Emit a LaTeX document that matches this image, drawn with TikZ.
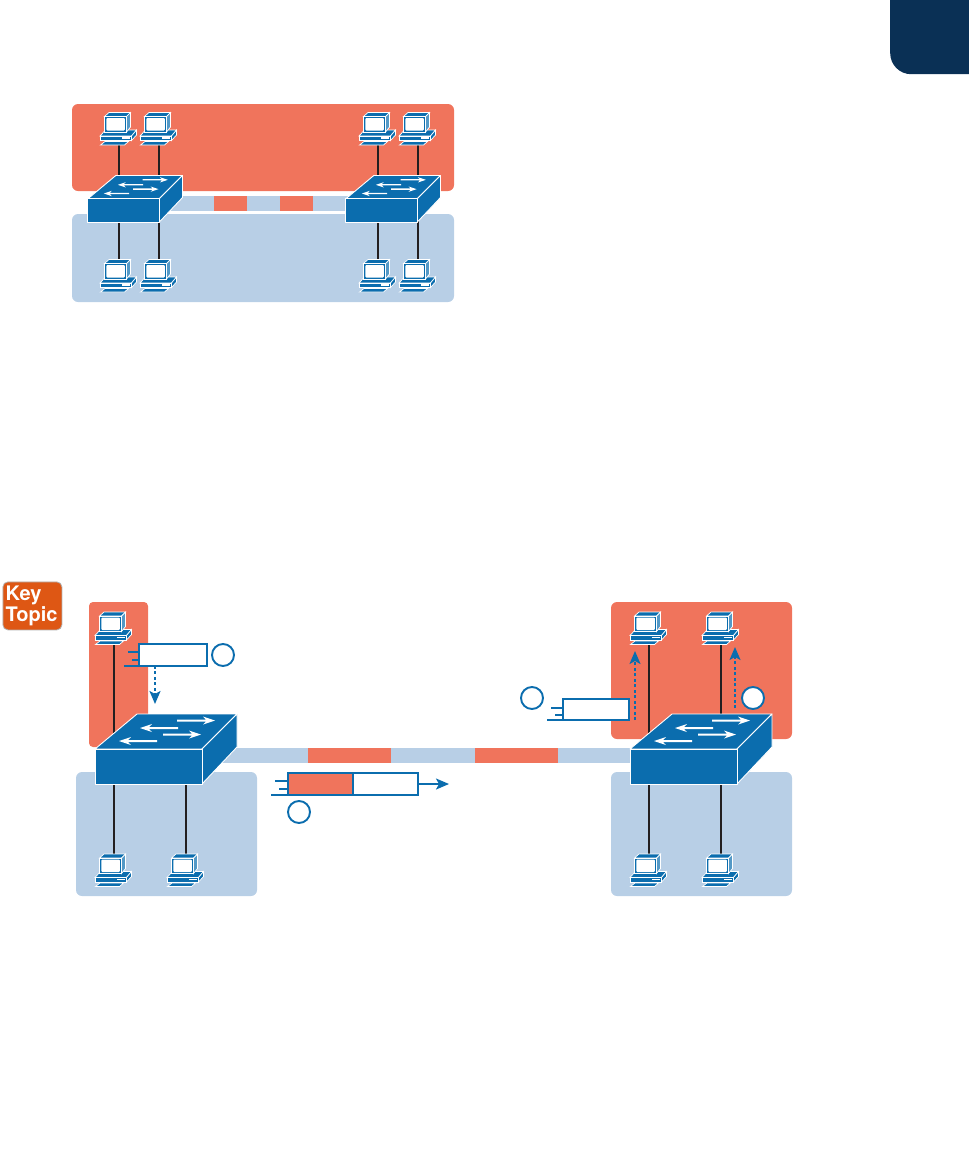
\documentclass[tikz,border=0pt]{standalone}
\usepackage{fontspec}
\setsansfont{TeX Gyre Heros}
\usetikzlibrary{arrows.meta, positioning}
\pgfdeclarelayer{background}
\pgfsetlayers{background,main}
\definecolor{vlanred}{HTML}{F0745C}
\definecolor{vlanblue}{HTML}{B8CFE6}
\definecolor{devblue}{HTML}{0B6DAE}
\definecolor{tabnavy}{HTML}{0A3055}
\definecolor{keyorange}{HTML}{DE5714}
\definecolor{wireblack}{HTML}{231F20}
\tikzset{
  pcpic/.pic={
    \begin{scope}[shift={(-19.5,-16.5)}, draw=white, fill=devblue, line width=0.7pt]
      \filldraw (0.5,24) -- (6,18) -- (37,18) -- (32,24) -- cycle;
      \filldraw (0.5,24) rectangle (32,28.5);
      \filldraw (32,24) -- (37,18) -- (37,23) -- (32,28.5) -- cycle;
      \fill[white] (22,25.4) rectangle (30,26.6);
      \filldraw (1,33) -- (5.5,29.5) -- (29,29.5) -- (25,33) -- cycle;
      \filldraw (5,4.5) -- (9.5,0.5) -- (31,0.5) -- (27,4.5) -- cycle;
      \filldraw[fill=devblue!70] (27,4.5) -- (31,0.5) -- (31,15) -- (27,20) -- cycle;
      \filldraw (5,4.5) rectangle (27,20);
      \fill[white, rounded corners=1pt] (6.8,6) rectangle (25.4,18.5);
    \end{scope}
  },
  swpic/.pic={
    \begin{scope}[shift={(-53.5,-17.5)}, draw=white, fill=devblue, line width=0.9pt, line join=round]
      \filldraw (0,0) -- (42,-35) -- (142,-35) -- (107,0) -- cycle;
      \filldraw (107,0) -- (142,-35) -- (142,-2) -- (107,35) -- cycle;
      \filldraw (0,0) rectangle (107,35);
      \foreach \xa/\xb/\yy/\dd in {82/120/-28.5/1, 83/45/-21/-1, 68/106/-14.5/1, 62/24/-8/-1}{
        \fill[white] (\xa,\yy-1) -- ({\xb-\dd*9},\yy-1) -- ({\xb-\dd*12},\yy-4) -- (\xb,\yy) -- ({\xb-\dd*12},\yy+4) -- ({\xb-\dd*9},\yy+1) -- (\xa,\yy+1) -- cycle;
      }
    \end{scope}
  }
}
\begin{document}
\begin{tikzpicture}[x=1pt, y=-1pt, >=Latex]
  \tikzstyle{zone}=[rectangle, anchor=north west, rounded corners=6pt, inner sep=0pt, outer sep=0pt]
  \tikzstyle{seg}=[rectangle, inner sep=0pt, outer sep=0pt, minimum height=15pt]
  \tikzstyle{pcbox}=[rectangle, inner sep=0pt, outer sep=0pt, minimum width=37pt, minimum height=33pt]
  \tikzstyle{swbox}=[rectangle, inner sep=0pt, outer sep=0pt]
  \tikzstyle{wire}=[draw=wireblack, line width=2pt]
  \tikzstyle{frame}=[rectangle, draw=devblue, fill=white, line width=1.9pt, inner sep=0pt, outer sep=0pt, minimum height=21.5pt]
  \tikzstyle{speed}=[draw=devblue, line width=1.9pt]
  \tikzstyle{stepmark}=[circle, draw=devblue, fill=white, line width=1.9pt, inner sep=0pt, minimum size=22pt]
  \tikzstyle{flowdash}=[draw=devblue, line width=1.9pt, dash pattern=on 3pt off 2.5pt, -{Stealth[length=13pt, width=11pt, inset=3pt, fill=devblue]}]
  \tikzstyle{flow}=[draw=devblue, line width=1.9pt, -{Stealth[length=13pt, width=11pt, inset=3pt, fill=devblue]}]

  \useasboundingbox (0,0) rectangle (969,1173);

  % corner tab and key topic badge
  \node[rectangle, fill=tabnavy, rounded corners=21pt, anchor=north west, inner sep=0pt, minimum width=120pt, minimum height=114pt] (tab) at (890,-40) {};
  \node[rectangle, draw=black!30, line width=0.8pt, fill=keyorange, rounded corners=5pt, anchor=north west, inner sep=0pt, minimum width=59pt, minimum height=48pt] (keybadge) at (2.5,581.5) {};
  \node[anchor=west, inner sep=0pt, align=left, text=white, font=\sffamily\bfseries\fontsize{20}{18}\selectfont] (keytext) at (5.5,606) {Key\\Topic};

  % top diagram
  \begin{pgfonlayer}{background}
    \node[zone, fill=vlanred, minimum width=382pt, minimum height=87pt] (topred) at (72,104) {};
    \node[zone, fill=vlanblue, minimum width=382pt, minimum height=88pt] (topblue) at (72,214) {};
    \node[seg, fill=vlanblue, minimum width=54pt, anchor=west] (trunkA) at (160,203.5) {};
    \node[seg, fill=vlanred, minimum width=33pt, right=0pt of trunkA] (trunkB) {};
    \node[seg, fill=vlanblue, minimum width=33pt, right=0pt of trunkB] (trunkC) {};
    \node[seg, fill=vlanred, minimum width=33pt, right=0pt of trunkC] (trunkD) {};
    \node[seg, fill=vlanblue, minimum width=37pt, right=0pt of trunkD] (trunkE) {};
  \end{pgfonlayer}
  \node[swbox, minimum width=71pt, minimum height=23pt] (swL) at (123.5,210.5) {};
  \node[swbox, minimum width=71pt, minimum height=23pt] (swR) at (381.5,210.5) {};
  \pic[scale=0.667] at (swL) {swpic};
  \pic[scale=0.667] at (swR) {swpic};
  \foreach \pcname/\pcx/\pcy in {pcA/119/128.5, pcB/159/128.5, pcC/378/128.5, pcD/418/128.5, pcE/119/275.5, pcF/159/275.5, pcG/378/275.5, pcH/418/275.5}{
    \node[pcbox] (\pcname) at (\pcx,\pcy) {};
    \pic at (\pcname) {pcpic};
  }
  \begin{pgfonlayer}{background}
    \draw[wire] (pcA.south) -- (pcA.south |- swL);
    \draw[wire] (pcB.south) -- (pcB.south |- swL);
    \draw[wire] (pcC.south) -- (pcC.south |- swR);
    \draw[wire] (pcD.south) -- (pcD.south |- swR);
    \draw[wire] (pcE.north) -- (pcE.north |- swL);
    \draw[wire] (pcF.north) -- (pcF.north |- swL);
    \draw[wire] (pcG.north) -- (pcG.north |- swR);
    \draw[wire] (pcH.north) -- (pcH.north |- swR);
  \end{pgfonlayer}

  % bottom diagram
  \begin{pgfonlayer}{background}
    \node[zone, fill=vlanred, rounded corners=4pt, minimum width=59pt, minimum height=145pt] (lowredL) at (89,602) {};
    \node[zone, fill=vlanblue, minimum width=181pt, minimum height=124pt] (lowblueL) at (76,772) {};
    \node[zone, fill=vlanred, minimum width=181pt, minimum height=137pt] (lowredR) at (611,602) {};
    \node[zone, fill=vlanblue, minimum width=181pt, minimum height=124pt] (lowblueR) at (611,772) {};
    \node[seg, fill=vlanblue, minimum width=93pt, anchor=west] (linkA) at (215,755.5) {};
    \node[seg, fill=vlanred, minimum width=83pt, right=0pt of linkA] (linkB) {};
    \node[seg, fill=vlanblue, minimum width=84pt, right=0pt of linkB] (linkC) {};
    \node[seg, fill=vlanred, minimum width=83pt, right=0pt of linkC] (linkD) {};
    \node[seg, fill=vlanblue, minimum width=72pt, right=0pt of linkD] (linkE) {};
  \end{pgfonlayer}
  \node[swbox, minimum width=107pt, minimum height=35pt] (swBL) at (148.5,766.5) {};
  \node[swbox, minimum width=107pt, minimum height=35pt] (swBR) at (683.5,766.5) {};
  \pic at (swBL) {swpic};
  \pic at (swBR) {swpic};
  \foreach \pcname/\pcx/\pcy in {pcJ/114/628, pcK/649/628, pcL/721/628, pcM/114/870, pcN/186/870, pcP/649/870, pcQ/721/870}{
    \node[pcbox] (\pcname) at (\pcx,\pcy) {};
    \pic at (\pcname) {pcpic};
  }
  \begin{pgfonlayer}{background}
    \draw[wire] (pcJ.south) -- (pcJ.south |- swBL);
    \draw[wire] (pcK.south) -- (pcK.south |- swBR);
    \draw[wire] (pcL.south) -- (pcL.south |- swBR);
    \draw[wire] (pcM.north) -- (pcM.north |- swBL);
    \draw[wire] (pcN.north) -- (pcN.north |- swBL);
    \draw[wire] (pcP.north) -- (pcP.north |- swBR);
    \draw[wire] (pcQ.north) -- (pcQ.north |- swBR);
  \end{pgfonlayer}

  % frames on the way
  \node[frame, minimum width=68pt] (frameIn) at (173,655) {};
  \node[frame, minimum width=65pt, fill=vlanred] (frameTagL) at (320.5,784) {};
  \node[frame, minimum width=65pt, right=0pt of frameTagL] (frameTagR) {};
  \node[frame, minimum width=66pt] (frameOut) at (596,709.5) {};
  \node[stepmark] (markA) at (223,655) {};
  \node[stepmark] (markB) at (299,812) {};
  \node[stepmark] (markC) at (532,698) {};
  \node[stepmark] (markD) at (753,698) {};

  \draw[speed] ([yshift=-5pt]frameIn.west) -- ++(-7,0);
  \draw[speed] ([yshift=3pt]frameIn.west) -- ++(-11,0);
  \draw[speed] (frameIn.south west) -- ++(-15,0);
  \draw[speed] ([yshift=-5pt]frameTagL.west) -- ++(-9,0);
  \draw[speed] ([yshift=3pt]frameTagL.west) -- ++(-13,0);
  \draw[speed] (frameTagL.south west) -- ++(-17,0);
  \draw[speed] ([yshift=-5.5pt]frameOut.west) -- ++(-8,0);
  \draw[speed] ([yshift=1.5pt]frameOut.west) -- ++(-12,0);
  \draw[speed] (frameOut.south west) -- ++(-16,0);

  \coordinate (tipIn) at (155,704);
  \coordinate (tipTag) at (449,784);
  \coordinate (startK) at (635,720);
  \coordinate (tipK) at (635,651);
  \coordinate (startL) at (735,708);
  \coordinate (tipL) at (735,647);
  \draw[flowdash] (frameIn.south -| tipIn) -- (tipIn);
  \draw[flow] (frameTagR.east) -- (tipTag);
  \draw[flowdash] (startK) -- (tipK);
  \draw[flowdash] (startL) -- (tipL);
\end{tikzpicture}
\end{document}
